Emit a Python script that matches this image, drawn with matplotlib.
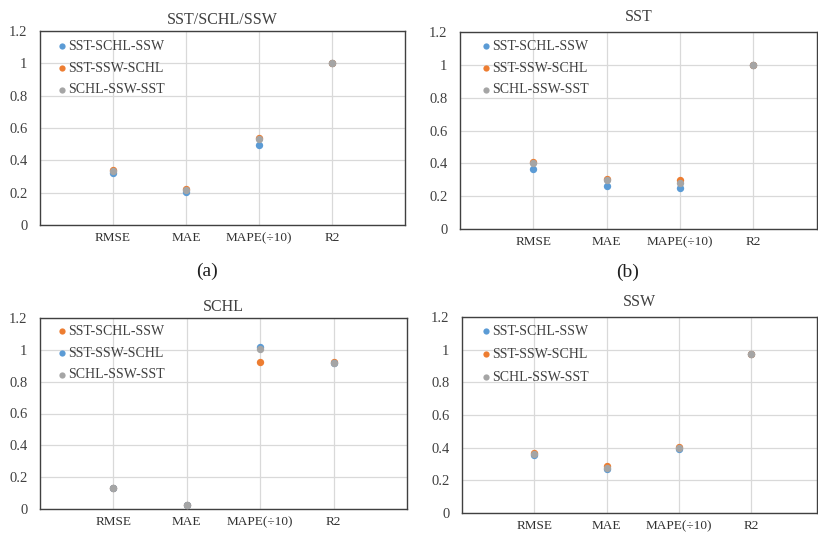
import matplotlib
matplotlib.use("Agg")
import matplotlib.pyplot as plt

plt.rcParams['font.family'] = ['Liberation Serif', 'DejaVu Serif']

categories = ["RMSE", "MAE", "MAPE(÷10)", "R2"]
yticks = [0, 0.2, 0.4, 0.6, 0.8, 1.0, 1.2]
ytick_labels = ["0", "0.2", "0.4", "0.6", "0.8", "1", "1.2"]

BLUE = "#5B9BD5"
ORANGE = "#ED7D31"
GREY = "#A5A5A5"

# Panel (a) SST/SCHL/SSW
a_title = "SST/SCHL/SSW"
a_sst_schl_ssw = [0.32, 0.205, 0.495, 1.0]
a_sst_ssw_schl = [0.34, 0.222, 0.541, 1.0]
a_schl_ssw_sst = [0.333, 0.216, 0.535, 1.0]

# Panel (b) SST
b_title = "SST"
b_sst_schl_ssw = [0.366, 0.264, 0.252, 1.0]
b_sst_ssw_schl = [0.407, 0.305, 0.297, 1.0]
b_schl_ssw_sst = [0.400, 0.300, 0.283, 1.0]

# Panel (c) SCHL (legend order/colours differ)
c_title = "SCHL"
c_sst_schl_ssw = [0.13, 0.027, 0.922, 0.924]   # orange
c_sst_ssw_schl = [0.13, 0.027, 1.018, 0.92]    # blue
c_schl_ssw_sst = [0.13, 0.027, 1.004, 0.918]   # grey

# Panel (d) SSW
d_title = "SSW"
d_sst_schl_ssw = [0.353, 0.272, 0.390, 0.972]
d_sst_ssw_schl = [0.370, 0.286, 0.404, 0.972]
d_schl_ssw_sst = [0.363, 0.278, 0.398, 0.972]

W, H = 818, 533
fig = plt.figure(figsize=(W / 100, H / 100), dpi=100)


def make_axes(left, top, right, bottom):
    ax = fig.add_axes([left / W, 1 - bottom / H, (right - left) / W, (bottom - top) / H])
    return ax, right - left, bottom - top


def draw(ax, wpx, hpx, xmax, title, series, title_pad, leg_dx, leg_dy, leg_sp=0.62):
    x = [1, 2, 3, 4]
    for label, vals, color in series:
        ax.scatter(x, vals, s=28, color=color, label=label, zorder=3, linewidths=0)
    ax.set_xlim(0, xmax)
    ax.set_ylim(0, 1.2)
    ax.set_xticks(x)
    ax.set_xticklabels(categories, fontsize=9.5, color="#303030")
    ax.set_yticks(yticks)
    ax.set_yticklabels(ytick_labels, fontsize=10.5, color="#404040")
    ax.tick_params(axis='both', length=0)
    ax.tick_params(axis='x', pad=5)
    ax.tick_params(axis='y', pad=9)
    ax.grid(True, color="#D9D9D9", linewidth=0.9, zorder=0)
    ax.set_axisbelow(True)
    for sp in ax.spines.values():
        sp.set_color("#404040")
        sp.set_linewidth(1.0)
    ax.set_title(title, fontsize=11.5, pad=title_pad, color="#404040")
    ax.legend(loc="upper left", frameon=False, fontsize=10, handlelength=0.4,
              handletextpad=0.25, labelspacing=leg_sp, borderaxespad=0.2,
              borderpad=0.6, markerscale=0.85, labelcolor="#404040",
              bbox_to_anchor=(leg_dx / wpx, 1 + leg_dy / hpx))


ax_a, wa, ha = make_axes(40, 31, 405, 225)
draw(ax_a, wa, ha, 5.0, a_title, [("SST-SCHL-SSW", a_sst_schl_ssw, BLUE),
                                  ("SST-SSW-SCHL", a_sst_ssw_schl, ORANGE),
                                  ("SCHL-SSW-SST", a_schl_ssw_sst, GREY)], 5, 8, 2)

ax_b, wb, hb = make_axes(460, 32, 817, 229)
draw(ax_b, wb, hb, 4.87, b_title, [("SST-SCHL-SSW", b_sst_schl_ssw, BLUE),
                                   ("SST-SSW-SCHL", b_sst_ssw_schl, ORANGE),
                                   ("SCHL-SSW-SST", b_schl_ssw_sst, GREY)], 8, 12, 3)

ax_c, wc, hc = make_axes(40, 318, 407, 509)
draw(ax_c, wc, hc, 5.0, c_title, [("SST-SCHL-SSW", c_sst_schl_ssw, ORANGE),
                                  ("SST-SSW-SCHL", c_sst_ssw_schl, BLUE),
                                  ("SCHL-SSW-SST", c_schl_ssw_sst, GREY)], 5, 8, 4)

ax_d, wd, hd = make_axes(462, 317, 817, 513)
draw(ax_d, wd, hd, 4.91, d_title, [("SST-SCHL-SSW", d_sst_schl_ssw, BLUE),
                                   ("SST-SSW-SCHL", d_sst_ssw_schl, ORANGE),
                                   ("SCHL-SSW-SST", d_schl_ssw_sst, GREY)], 8, 10, 3, 0.72)

fig.text(207 / W, 1 - 271 / H, "(a)", fontsize=14, ha="center", va="center", color="#202020")
fig.text(628 / W, 1 - 272 / H, "(b)", fontsize=14, ha="center", va="center", color="#202020")

fig.savefig("out.png", dpi=100)
